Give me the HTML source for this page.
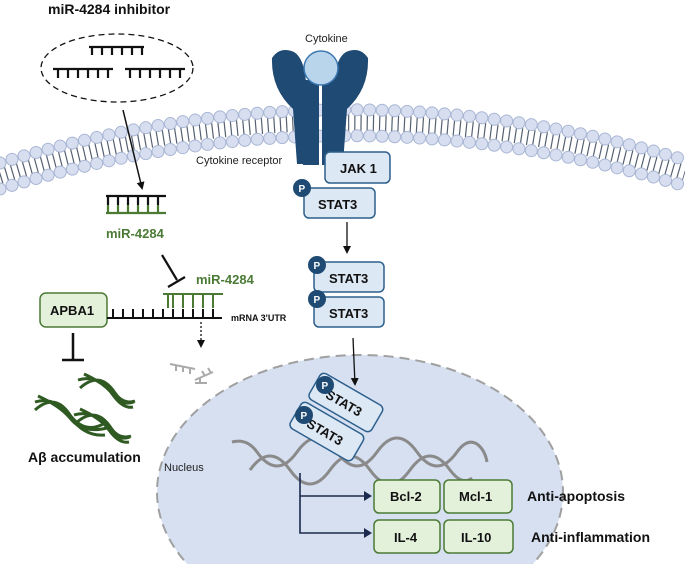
<!DOCTYPE html>
<html><head><style>
html,body{margin:0;padding:0;background:#fff;width:685px;height:564px;overflow:hidden;}
svg{display:block;font-family:"Liberation Sans",Arial,sans-serif;}
</style></head><body>
<svg width="685" height="564" viewBox="0 0 685 564">
<defs>
<marker id="ah" markerWidth="8" markerHeight="8" refX="6" refY="4" orient="auto" markerUnits="userSpaceOnUse"><path d="M0,0 L8,4 L0,8z" fill="#111"/></marker>
</defs>
<!-- nucleus -->
<ellipse cx="360" cy="492" rx="203" ry="137" fill="#d6e0f1" stroke="#a0a0a0" stroke-width="2" stroke-dasharray="10,6"/>
<!-- membrane -->
<g fill="none">
<path d="M0,176 Q342,71 685,173" stroke="#556070" stroke-width="16" stroke-dasharray="1.2 5"/>
<path d="M0,163 Q342,58 685,160" stroke="#a9b6d4" stroke-width="13" stroke-linecap="round" stroke-dasharray="0 12.5"/>
<path d="M0,163 Q342,58 685,160" stroke="#d6def0" stroke-width="11" stroke-linecap="round" stroke-dasharray="0 12.5"/>
<path d="M0,189 Q342,84 685,186" stroke="#a9b6d4" stroke-width="13" stroke-linecap="round" stroke-dasharray="0 12.5"/>
<path d="M0,189 Q342,84 685,186" stroke="#d6def0" stroke-width="11" stroke-linecap="round" stroke-dasharray="0 12.5"/>
</g>
<!-- receptor -->
<g fill="#1e4a73">
<path d="M272,58 q8,-12 22,-6 q10,6 12,30 l0,82 l-9,0 l-4,-55 q-22,-20 -21,-51z"/>
<path d="M368,58 q-8,-12 -22,-6 q-10,6 -12,30 l0,82 l9,0 l4,-55 q22,-20 21,-51z"/>
<rect x="303" y="80" width="16" height="85"/>
<rect x="322" y="80" width="16" height="85"/>
</g>
<circle cx="321" cy="68" r="17" fill="#b9d5ec" stroke="#3b77b0" stroke-width="1.5"/>
<text x="305" y="42" font-size="11" fill="#222">Cytokine</text>
<text x="196" y="164" font-size="11" fill="#222">Cytokine receptor</text>
<g font-weight="bold" font-size="13" fill="#111">
<rect x="325" y="152" width="65" height="31" rx="5" fill="#dde8f5" stroke="#2d5f8c" stroke-width="1.5"/>
<text x="340" y="173">JAK 1</text>
<rect x="304" y="188" width="71" height="30" rx="5" fill="#dde8f5" stroke="#2d5f8c" stroke-width="1.5"/>
<text x="318" y="209">STAT3</text>
<rect x="314" y="262" width="70" height="30" rx="5" fill="#dde8f5" stroke="#2d5f8c" stroke-width="1.5"/>
<text x="329" y="283">STAT3</text>
<rect x="314" y="297" width="70" height="30" rx="5" fill="#dde8f5" stroke="#2d5f8c" stroke-width="1.5"/>
<text x="329" y="318">STAT3</text>
</g>
<g font-weight="bold" font-size="10" fill="#fff">
<circle cx="302" cy="188" r="9" fill="#1e4a73"/><text x="298.5" y="192">P</text>
<circle cx="317" cy="265" r="9" fill="#1e4a73"/><text x="313.5" y="269">P</text>
<circle cx="317" cy="299" r="9" fill="#1e4a73"/><text x="313.5" y="303">P</text>
</g>
<line x1="347" y1="222" x2="347" y2="252" stroke="#111" stroke-width="1.3" marker-end="url(#ah)"/>
<line x1="353" y1="338" x2="355" y2="384" stroke="#111" stroke-width="1.3" marker-end="url(#ah)"/>
<!-- DNA -->
<g fill="none" stroke="#8a8a8a" stroke-width="3">
<path d="M232,442 q15,-4 25,10 q20,28 40,0 q20,-28 40,0 q20,28 40,0 q20,-28 40,0 q20,28 40,0 q10,-14 20,-8 q8,6 10,18"/>
<path d="M250,470 q20,-28 40,0 q20,28 40,0 q20,-28 40,0 q20,28 40,0 q20,-28 40,0 q12,16 22,8"/>
</g>
<!-- rotated STAT3 -->
<g transform="translate(345,402) rotate(30)">
<rect x="-35" y="-15" width="72" height="30" rx="5" fill="#dde8f5" stroke="#2d5f8c" stroke-width="1.5"/>
<text x="-20" y="6" font-weight="bold" font-size="13" fill="#111">STAT3</text>
</g>
<circle cx="325" cy="385" r="9" fill="#1e4a73"/><text x="321.5" y="389" font-weight="bold" font-size="10" fill="#fff">P</text>
<g transform="translate(326,431) rotate(30)">
<rect x="-35" y="-15" width="72" height="30" rx="5" fill="#dde8f5" stroke="#2d5f8c" stroke-width="1.5"/>
<text x="-20" y="6" font-weight="bold" font-size="13" fill="#111">STAT3</text>
</g>
<circle cx="304" cy="415" r="9" fill="#1e4a73"/><text x="300.5" y="419" font-weight="bold" font-size="10" fill="#fff">P</text>
<!-- gene outputs -->
<path d="M300,473 L300,533 L364,533 M300,496 L364,496" fill="none" stroke="#1b2a4e" stroke-width="1.6"/>
<path d="M364,491 l8,5 l-8,5z M364,528 l8,5 l-8,5z" fill="#1b2a4e"/>
<g font-weight="bold" font-size="13" fill="#111">
<rect x="374" y="480" width="66" height="33" rx="5" fill="#e3f0da" stroke="#4b7a35" stroke-width="1.5"/><text x="390" y="501">Bcl-2</text>
<rect x="444" y="480" width="68" height="33" rx="5" fill="#e3f0da" stroke="#4b7a35" stroke-width="1.5"/><text x="459" y="501">Mcl-1</text>
<rect x="374" y="520" width="66" height="33" rx="5" fill="#e3f0da" stroke="#4b7a35" stroke-width="1.5"/><text x="394" y="542">IL-4</text>
<rect x="444" y="520" width="69" height="33" rx="5" fill="#e3f0da" stroke="#4b7a35" stroke-width="1.5"/><text x="461" y="542">IL-10</text>
<text x="527" y="501" font-size="14">Anti-apoptosis</text>
<text x="531" y="542" font-size="14">Anti-inflammation</text>
</g>
<text x="164" y="471" font-size="11" fill="#222">Nucleus</text>
<!-- left side -->
<text x="48" y="14" font-weight="bold" font-size="14" fill="#111">miR-4284 inhibitor</text>
<ellipse cx="117" cy="68" rx="76" ry="34" fill="none" stroke="#111" stroke-width="1.3" stroke-dasharray="6,4"/>
<g stroke="#111" stroke-width="2.2" fill="none">
<path d="M89,47 h55 M92,47 v8 M102,47 v8 M112,47 v8 M122,47 v8 M132,47 v8 M142,47 v8"/>
<path d="M53,69 h60 M58,69 v9 M68,69 v9 M78,69 v9 M88,69 v9 M98,69 v9 M108,69 v9"/>
<path d="M125,69 h60 M130,69 v9 M140,69 v9 M150,69 v9 M160,69 v9 M170,69 v9 M180,69 v9"/>
</g>
<line x1="123" y1="110" x2="142" y2="188" stroke="#111" stroke-width="1.5" marker-end="url(#ah)"/>
<g stroke-width="2.2" fill="none">
<path d="M106,196 h60" stroke="#111"/>
<path d="M108,196 v9 M118,196 v9 M128,196 v9 M138,196 v9 M148,196 v9 M158,196 v9" stroke="#111"/>
<path d="M108,205 v7 M118,205 v7 M128,205 v7 M138,205 v7 M148,205 v7 M158,205 v7 M106,213 h60" stroke="#4b7a35"/>
</g>
<text x="106" y="238" font-weight="bold" font-size="13" fill="#4b7a35">miR-4284</text>
<path d="M162,255 L177,280 M168,287 L185,277" stroke="#111" stroke-width="2.2" fill="none"/>
<text x="196" y="284" font-weight="bold" font-size="13" fill="#4b7a35">miR-4284</text>
<rect x="40" y="293" width="67" height="34" rx="6" fill="#e3f0da" stroke="#4b7a35" stroke-width="1.5"/>
<text x="50" y="315" font-weight="bold" font-size="13" fill="#111">APBA1</text>
<g stroke-width="2" fill="none">
<path d="M107,318 h115" stroke="#111"/>
<path d="M113,318 v-9 M123,318 v-9 M133,318 v-9 M143,318 v-9 M153,318 v-9 M163,318 v-9 M173,318 v-9 M183,318 v-9 M193,318 v-9 M203,318 v-9 M213,318 v-9" stroke="#111"/>
<path d="M163,294 h60 M173,294 v14 M183,294 v14 M193,294 v14 M203,294 v14 M213,294 v14 M168,294 v14" stroke="#4b7a35"/>
</g>
<text x="231" y="321" font-weight="bold" font-size="9" fill="#111">mRNA 3'UTR</text>
<line x1="201" y1="322" x2="201" y2="346" stroke="#111" stroke-width="1.3" stroke-dasharray="2,2" marker-end="url(#ah)"/>
<g stroke="#aaa" stroke-width="2" fill="none">
<path d="M170,364 l25,5 M176,365 v6 M183,366 v6 M190,368 v6"/>
<path d="M195,380 l18,-8 M205,376 l-3,-5 M211,373 l-3,-5"/>
<path d="M195,383 h12 M200,383 v-6"/>
</g>
<path d="M73,333 V360 M62,360 H84" stroke="#111" stroke-width="2.5" fill="none"/>
<g stroke="#2f5a22" stroke-width="3" fill="none">
<path d="M35,402 q20,-6 35,15 q15,20 35,18 M35,410 q20,-18 35,5 q15,20 35,8 M38,396 q22,10 32,22 q12,16 37,10"/>
<path d="M78,380 q20,-6 35,15 q10,14 20,12 M80,388 q20,-18 35,5 q8,12 20,8 M84,374 q22,10 30,22 q8,10 20,6"/>
<path d="M74,415 q20,-6 35,15 q10,14 20,12 M76,423 q20,-18 35,5 q8,12 20,8 M80,409 q22,10 30,22 q8,10 20,6"/>
</g>
<text x="28" y="462" font-weight="bold" font-size="14" fill="#111">Aβ accumulation</text>
</svg>
</body></html>
